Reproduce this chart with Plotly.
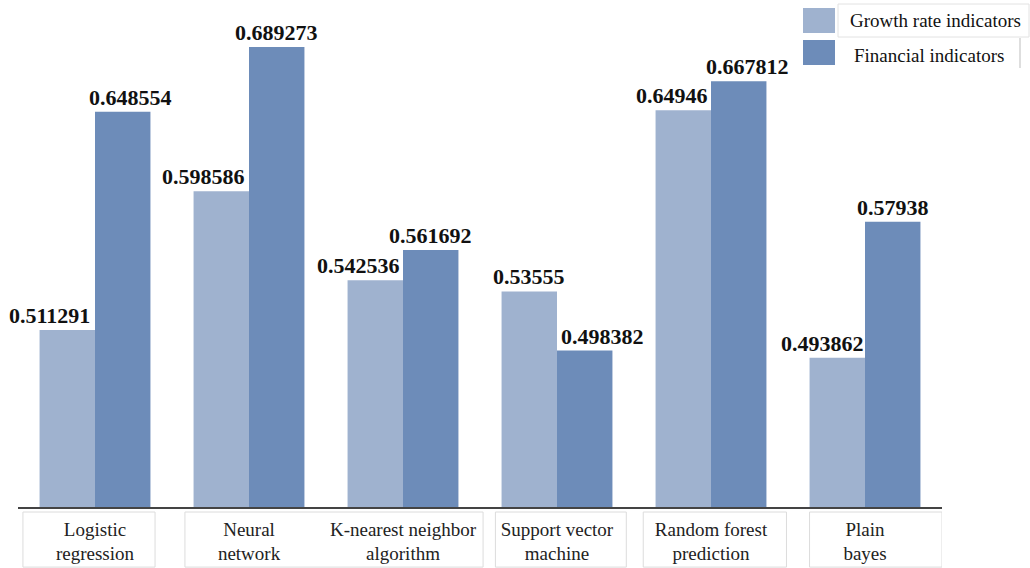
import plotly.graph_objects as go

# Model comparison: two indicator sets per classifier
categories = [
    "Logistic<br>regression",
    "Neural<br>network",
    "K-nearest neighbor<br>algorithm",
    "Support vector<br>machine",
    "Random forest<br>prediction",
    "Plain<br>bayes",
]
series_names = ["Growth rate indicators", "Financial indicators"]
growth_rate = [0.511291, 0.598586, 0.542536, 0.53555, 0.64946, 0.493862]
financial = [0.648554, 0.689273, 0.561692, 0.498382, 0.667812, 0.57938]

colors = ["#9fb2cf", "#6d8cb9"]
serif = "Liberation Serif, Times New Roman, serif"

# horizontal nudges (px) keeping neighbouring value labels apart
growth_shift = [-18, -18, -17, 0, -11, -15]
financial_shift = [8, 0, 0, 18, 9, 0]

x_idx = list(range(len(categories)))
fig = go.Figure()
for name, vals, col in zip(series_names, [growth_rate, financial], colors):
    fig.add_trace(go.Bar(x=x_idx, y=vals, name=name, marker_color=col,
                         marker_line_width=0, showlegend=False))

half = 0.18
annotations = []
for i in x_idx:
    for vals, shifts, off in [(growth_rate, growth_shift, -half),
                              (financial, financial_shift, half)]:
        annotations.append(dict(
            x=i + off, y=vals[i], text="<b>%g</b>" % vals[i], showarrow=False,
            xref="x", yref="y", xanchor="center", yanchor="bottom",
            xshift=shifts[i], yshift=0,
            font=dict(family=serif, size=22, color="#111111")))

# category label frames below the axis
frames = [(-0.468, 0.39), (0.584, 2.52), (2.60, 3.45), (3.56, 4.49), (4.64, 5.5)]
shapes = []
for x0, x1 in frames:
    shapes.append(dict(type="rect", xref="x", yref="paper", x0=x0, x1=x1,
                       y0=-0.0105, y1=-0.126, line=dict(color="#dcdcdc", width=1)))

fig.update_layout(
    width=1030, height=568,
    margin=dict(l=18, r=88, t=30, b=61, autoexpand=False),
    plot_bgcolor="white", paper_bgcolor="white",
    bargap=0.28, bargroupgap=0,
    barmode="group",
    xaxis=dict(
        tickmode="array", tickvals=x_idx, ticktext=categories,
        range=[-0.5, 5.5], showgrid=False, zeroline=False,
        showline=True, linecolor="#444444", linewidth=1.5,
        ticks="", ticklabelstandoff=4, automargin=False,
        tickfont=dict(family=serif, size=19, color="#222222"),
    ),
    yaxis=dict(range=[0.4, 0.7], visible=False, automargin=False),
    annotations=annotations,
    shapes=shapes,
    showlegend=False,
)

# legend block placed in pixel-derived paper coordinates
pl, pt, pw, ph = 18, 30, 924, 477


def px_x(px):
    return (px - pl) / pw


def px_y(py):
    return (pt + ph - py) / ph


legend_items = [(8, 33, 20, 848), (40, 65, 55, 852)]
for (s_top, s_bot, ty, tx), name, col in zip(legend_items, series_names, colors):
    fig.add_shape(type="rect", xref="paper", yref="paper",
                  x0=px_x(803), x1=px_x(835), y0=px_y(s_bot), y1=px_y(s_top),
                  fillcolor=col, line=dict(width=0))
    fig.add_annotation(xref="paper", yref="paper", x=px_x(tx), y=px_y(ty),
                       text=name, showarrow=False, xanchor="left", yanchor="middle",
                       font=dict(family=serif, size=19, color="#111111"))
fig.add_shape(type="rect", xref="paper", yref="paper",
              x0=px_x(838), x1=px_x(1029), y0=px_y(37), y1=px_y(4),
              line=dict(color="#e2e2e2", width=1))
fig.add_shape(type="line", xref="paper", yref="paper",
              x0=px_x(1020), x1=px_x(1020), y0=px_y(68), y1=px_y(38),
              line=dict(color="#bdbdbd", width=1))

fig.write_html("out.html")
